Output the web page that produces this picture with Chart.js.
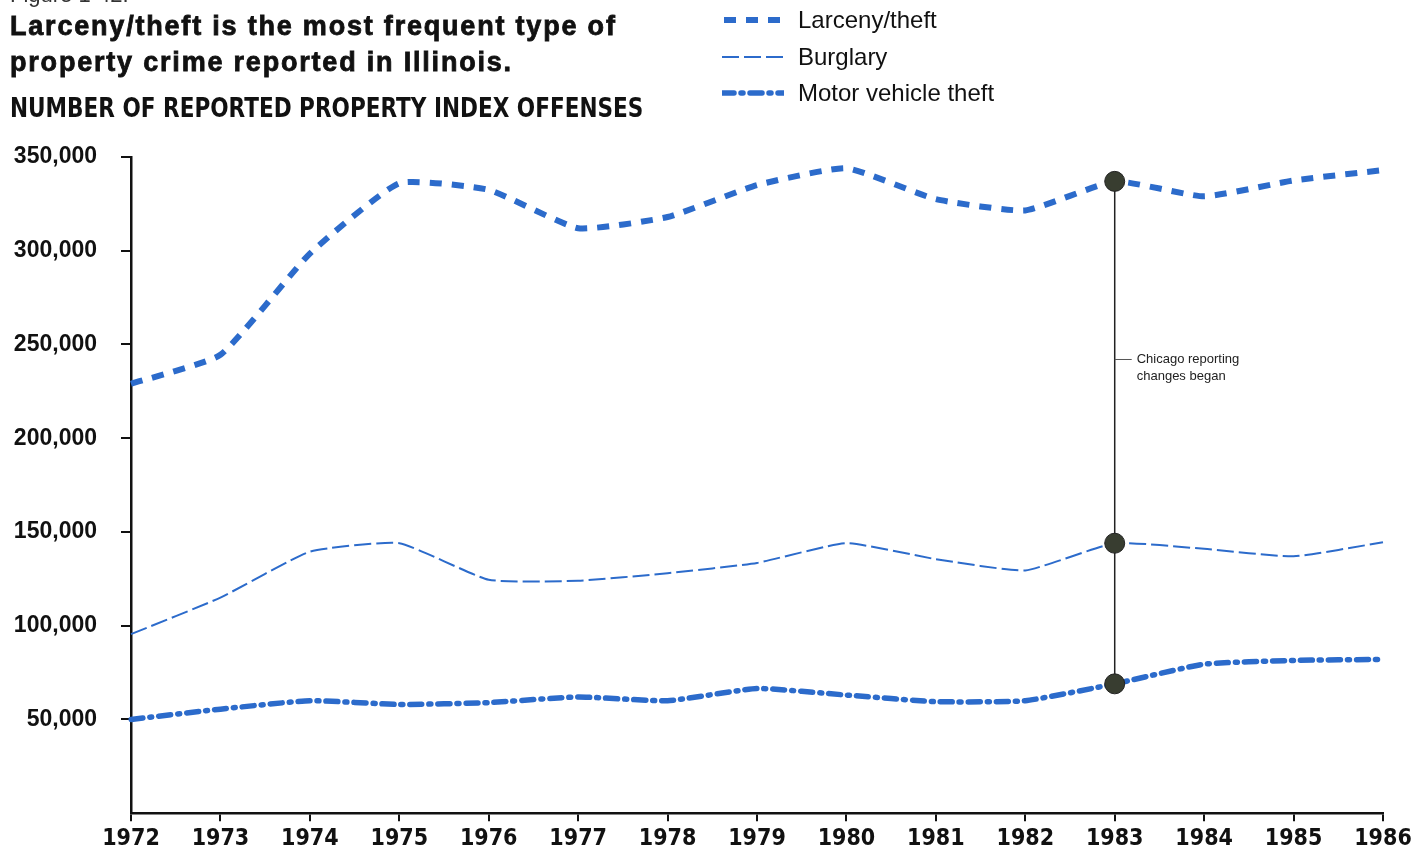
<!DOCTYPE html>
<html>
<head>
<meta charset="utf-8">
<script src="https://cdn.jsdelivr.net/npm/chart.js@4"></script>
<style>
  body { margin: 0; background: #fff; }
  #wrap { position: relative; width: 1428px; height: 851px; overflow: hidden; }
  #wrap canvas { position: absolute; left: 0; top: 0; }
  .txt { position: absolute; color: #111; font-family: "Liberation Sans", Arial, sans-serif; white-space: nowrap; }
  #fig { left: 10px; top: -18px; font-size: 22px; color: #333; }
  #title { left: 10px; top: 8px; font-size: 27px; font-weight: bold; line-height: 36px; letter-spacing: 1.8px; -webkit-text-stroke: 0.8px #111; }
  #sub { left: 10px; top: 93px; font-family: "DejaVu Sans Condensed", sans-serif; font-size: 24px; font-weight: bold; transform: scaleY(1.1); transform-origin: left top; }
  #legend { left: 722px; top: 2px; }
  .row { display: flex; align-items: center; height: 36.5px; font-size: 24px; }
  .row svg { margin-right: 14px; }
</style>
</head>
<body>
<div id="wrap">
  <canvas id="myChart"></canvas>
  <div class="txt" id="fig">Figure 1-42.</div>
  <div class="txt" id="title">Larceny/theft is the most frequent type of<br>property crime reported in Illinois.</div>
  <div class="txt" id="sub">NUMBER OF REPORTED PROPERTY INDEX OFFENSES</div>
  <div class="txt" id="legend">
    <div class="row"><svg width="62" height="10"><line x1="2" y1="5" x2="62" y2="5" stroke="#2c6bcb" stroke-width="6" stroke-dasharray="12 10"/></svg>Larceny/theft</div>
    <div class="row"><svg width="62" height="10"><line x1="0" y1="5" x2="62" y2="5" stroke="#2c6bcb" stroke-width="2" stroke-dasharray="17 5"/></svg>Burglary</div>
    <div class="row"><svg width="62" height="10"><line x1="0" y1="5" x2="62" y2="5" stroke="#2c6bcb" stroke-width="5.5" stroke-linecap="round" stroke-dasharray="12 7 2 7"/></svg>Motor vehicle theft</div>
  </div>
</div>
<script>
var years = ['1972','1973','1974','1975','1976','1977','1978','1979','1980','1981','1982','1983','1984','1985','1986'];
var larceny = [229000, 244500, 298500, 336000, 332500, 312000, 318000, 335000, 344000, 327500, 321500, 337000, 329000, 337500, 343000];
var burglary = [95500, 115000, 139500, 144000, 124500, 124000, 128000, 133500, 144000, 135500, 129500, 144000, 141000, 137000, 144500];
var motorVehicle = [50000, 55500, 60000, 58000, 59000, 62000, 60000, 66500, 63000, 59500, 60000, 69000, 79500, 81500, 82000];
var yTicks = [0, 50000, 100000, 150000, 200000, 250000, 300000, 350000];
var noteYear = '1983';
var noteText = ['Chicago reporting', 'changes began'];

var blue = '#2c6bcb';
var dot = '#383d30';
var noteIdx = years.indexOf(noteYear);

function radii(r) {
  return years.map(function (y, i) { return i === noteIdx ? r : 0; });
}

var notePlugin = {
  id: 'note',
  beforeDatasetsDraw: function (chart) {
    var ctx = chart.ctx;
    var x = chart.scales.x.getPixelForValue(noteIdx);
    var yTop = chart.scales.y.getPixelForValue(larceny[noteIdx]);
    var yBot = chart.scales.y.getPixelForValue(motorVehicle[noteIdx]);
    var yNote = chart.scales.y.getPixelForValue(242000);
    ctx.save();
    ctx.strokeStyle = '#222';
    ctx.lineWidth = 1.5;
    ctx.beginPath();
    ctx.moveTo(x, yTop);
    ctx.lineTo(x, yBot);
    ctx.stroke();
    ctx.lineWidth = 1;
    ctx.strokeStyle = '#555';
    ctx.beginPath();
    ctx.moveTo(x, yNote);
    ctx.lineTo(x + 17, yNote);
    ctx.stroke();
    ctx.fillStyle = '#222';
    ctx.font = '13px "Liberation Sans", Arial, sans-serif';
    ctx.textBaseline = 'middle';
    ctx.fillText(noteText[0], x + 22, yNote);
    ctx.fillText(noteText[1], x + 22, yNote + 17);
    ctx.restore();
  }
};

var ctx = document.getElementById('myChart');
new Chart(ctx, {
  type: 'line',
  data: {
    labels: years,
    datasets: [{
      label: 'Larceny/theft',
      data: larceny,
      borderColor: blue,
      borderWidth: 6,
      borderDash: [12, 10],
      tension: 0.15,
      pointRadius: radii(10),
      pointBackgroundColor: dot,
      pointBorderColor: '#222',
      pointBorderWidth: 1
    }, {
      label: 'Burglary',
      data: burglary,
      borderColor: blue,
      borderWidth: 2,
      borderDash: [17, 5],
      tension: 0.15,
      pointRadius: radii(10),
      pointBackgroundColor: dot,
      pointBorderColor: '#222',
      pointBorderWidth: 1
    }, {
      label: 'Motor vehicle theft',
      data: motorVehicle,
      borderColor: blue,
      borderWidth: 5.5,
      borderCapStyle: 'round',
      borderDash: [12, 7, 2, 7],
      tension: 0.15,
      pointRadius: radii(10),
      pointBackgroundColor: dot,
      pointBorderColor: '#222',
      pointBorderWidth: 1
    }]
  },
  options: {
    responsive: true,
    maintainAspectRatio: false,
    animation: false,
    layout: { padding: { left: 0, top: 157, right: 45, bottom: 0 } },
    plugins: {
      legend: { display: false },
      tooltip: { enabled: false }
    },
    scales: {
      x: {
        offset: false,
        grid: { drawOnChartArea: false, color: '#111', lineWidth: 2, tickLength: 8 },
        border: { color: '#111', width: 2.5 },
        ticks: {
          color: '#111',
          padding: 4,
          maxRotation: 0,
          autoSkip: false,
          font: { family: '"DejaVu Sans Condensed", sans-serif', size: 23, weight: 'bold' }
        },
        afterFit: function (scale) { scale.height = 36; }
      },
      y: {
        min: yTicks[0],
        max: yTicks[yTicks.length - 1],
        afterBuildTicks: function (scale) {
          scale.ticks = yTicks.map(function (v) { return { value: v }; });
        },
        grid: {
          drawOnChartArea: false,
          tickLength: 10,
          lineWidth: 2,
          color: function (c) { return c.tick && c.tick.value === 0 ? 'rgba(0,0,0,0)' : '#111'; }
        },
        border: { color: '#111', width: 2.5 },
        ticks: {
          color: '#111',
          padding: 24,
          font: { family: '"Liberation Sans", Arial, sans-serif', size: 23, weight: 'bold' },
          callback: function (v) { return v === 0 ? '' : v.toLocaleString('en-US'); }
        },
        afterFit: function (scale) { scale.width = 131; }
      }
    }
  },
  plugins: [notePlugin]
});
</script>
</body>
</html>
